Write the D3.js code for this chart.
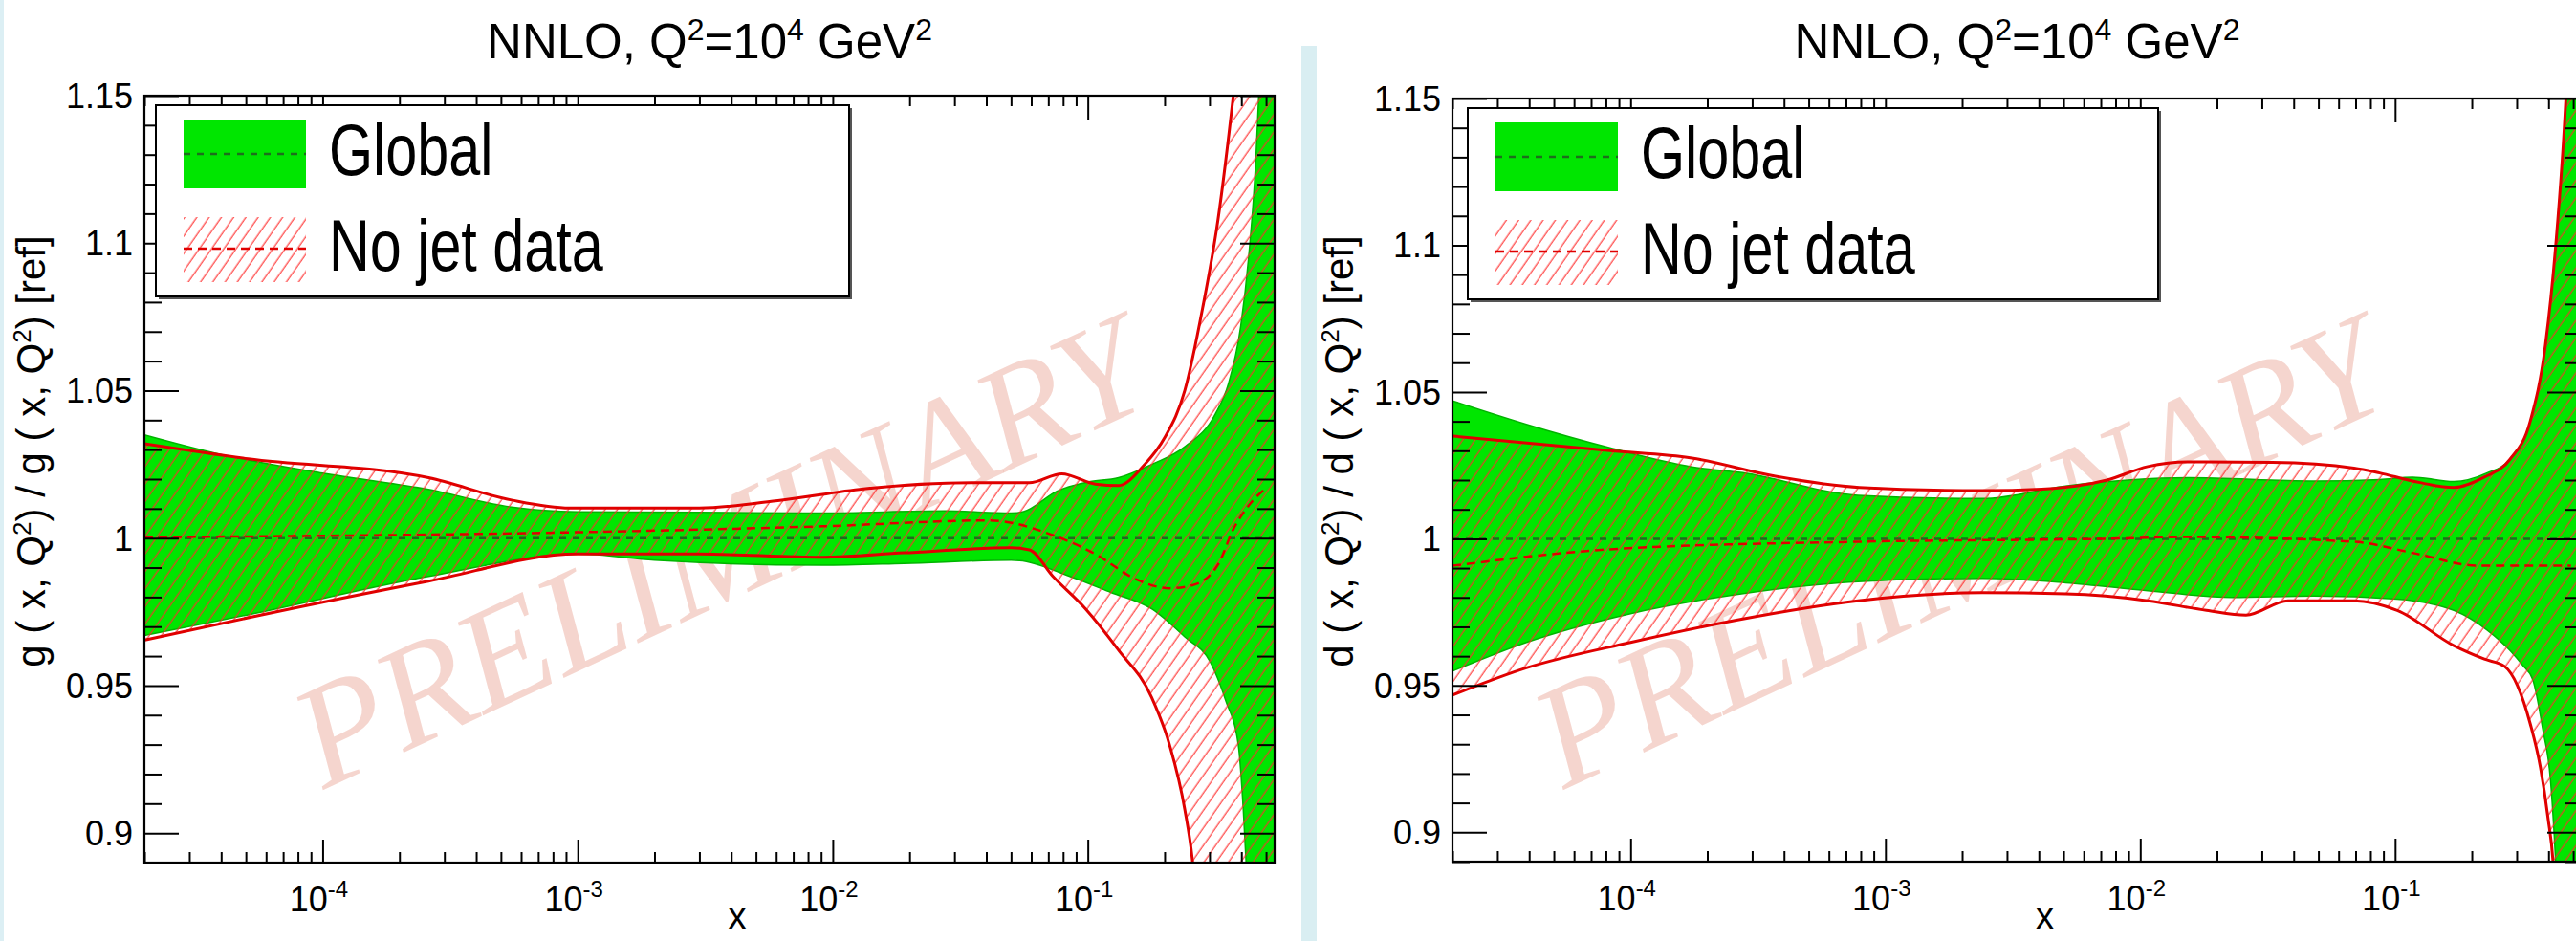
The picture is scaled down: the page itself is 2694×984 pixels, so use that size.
<!DOCTYPE html>
<html><head><meta charset="utf-8">
<script src="https://cdn.jsdelivr.net/npm/d3@7"></script>
<style>html,body{margin:0;padding:0;background:#fff;} svg{display:block;}</style>
</head><body>
<svg id="chart" width="2694" height="984"></svg>
<script>
// ---------- axis / tick data ----------
const xDomain = [2e-5, 0.54];
const yDomain = [0.89, 1.15];
const xTickValues = [1e-4, 1e-3, 1e-2, 1e-1];
const xTickExponents = ["-4", "-3", "-2", "-1"];
const yTickValues = [0.9, 0.95, 1, 1.05, 1.1, 1.15];
const yTickLabels = ["0.9", "0.95", "1", "1.05", "1.1", "1.15"];
const legendLabels = ["Global", "No jet data"];
const watermarkText = "PRELIMINARY";

// ---------- gluon panel (left) ----------
const gluonGlobalUpperX = [2e-5, 3.7e-5, 1e-4, 2.6e-4, 5.5e-4, 1e-3, 3e-3, 9.1e-3, 2.75e-2, 5e-2, 5.6e-2, 7.6e-2, 0.1, 0.132, 0.178, 0.24, 0.316, 0.355, 0.398, 0.427, 0.457, 0.468, 0.54];
const gluonGlobalUpperY = [1.035, 1.029, 1.022, 1.0165, 1.0105, 1.0089, 1.0087, 1.0085, 1.0092, 1.0085, 1.009, 1.016, 1.019, 1.0205, 1.025, 1.031, 1.042, 1.052, 1.072, 1.095, 1.13, 1.15, 1.35];
const gluonGlobalLowerX = [2e-5, 5.1e-5, 2.6e-4, 1e-3, 2e-3, 9.1e-3, 1.9e-2, 5e-2, 5.4e-2, 8.5e-2, 0.123, 0.178, 0.24, 0.302, 0.347, 0.389, 0.407, 0.417, 0.44, 0.54];
const gluonGlobalLowerY = [0.967, 0.974, 0.987, 0.9946, 0.9925, 0.9908, 0.9914, 0.9925, 0.9924, 0.987, 0.9816, 0.976, 0.9665, 0.958, 0.945, 0.930, 0.908, 0.891, 0.84, 0.70];
const gluonGlobalCentralX = [2e-5, 0.54];
const gluonGlobalCentralY = [1, 1];
const gluonNoJetUpperX = [2e-5, 5.1e-5, 2.6e-4, 5.5e-4, 9.3e-4, 3e-3, 6.3e-3, 1.32e-2, 3.5e-2, 5.9e-2, 7.9e-2, 0.107, 0.132, 0.166, 0.2, 0.24, 0.282, 0.324, 0.372, 0.427, 0.54];
const gluonNoJetUpperY = [1.032, 1.0269, 1.0205, 1.0129, 1.0102, 1.0102, 1.0129, 1.0167, 1.0188, 1.0188, 1.0218, 1.0183, 1.0178, 1.0247, 1.034, 1.05, 1.078, 1.108, 1.15, 1.2, 1.35];
const gluonNoJetLowerX = [2e-5, 5.1e-5, 2.6e-4, 1e-3, 3e-3, 9.1e-3, 1.9e-2, 5e-2, 5.9e-2, 7.3e-2, 9.8e-2, 0.132, 0.178, 0.209, 0.24, 0.257, 0.275, 0.54];
const gluonNoJetLowerY = [0.9654, 0.973, 0.9854, 0.9946, 0.9946, 0.9935, 0.995, 0.9967, 0.996, 0.987, 0.976, 0.962, 0.946, 0.930, 0.908, 0.891, 0.86, 0.60];
const gluonNoJetCentralX = [2e-5, 1e-3, 9.1e-3, 4.1e-2, 7.3e-2, 0.107, 0.155, 0.209, 0.257, 0.324, 0.372, 0.427, 0.5];
const gluonNoJetCentralY = [1.0003, 1.002, 1.004, 1.006, 1.001, 0.9946, 0.986, 0.983, 0.984, 0.991, 1.003, 1.011, 1.017];

// ---------- d-quark panel (right) ----------
const dGlobalUpperX = [2e-5, 3.9e-5, 8.3e-5, 1.74e-4, 2.75e-4, 7.8e-4, 2.4e-3, 5.1e-3, 1.55e-2, 4.8e-2, 8.7e-2, 0.117, 0.17, 0.229, 0.282, 0.339, 0.389, 0.427, 0.468, 0.54];
const dGlobalUpperY = [1.047, 1.039, 1.031, 1.0245, 1.0225, 1.0148, 1.0137, 1.018, 1.0208, 1.0197, 1.0202, 1.021, 1.0195, 1.0224, 1.027, 1.04, 1.066, 1.10, 1.15, 1.3];
const dGlobalLowerX = [2e-5, 3.9e-5, 1e-4, 2.6e-4, 7.8e-4, 2.4e-3, 5.1e-3, 1.07e-2, 2.3e-2, 4.8e-2, 0.102, 0.17, 0.229, 0.282, 0.316, 0.347, 0.38, 0.407, 0.427, 0.447, 0.54];
const dGlobalLowerY = [0.9549, 0.9647, 0.9745, 0.981, 0.9854, 0.9865, 0.985, 0.9823, 0.98, 0.9805, 0.9794, 0.9756, 0.969, 0.962, 0.957, 0.952, 0.935, 0.918, 0.8895, 0.85, 0.60];
const dGlobalCentralX = [2e-5, 0.54];
const dGlobalCentralY = [1, 1];
const dNoJetUpperX = [2e-5, 8.3e-5, 1.74e-4, 3.7e-4, 7.9e-4, 2.4e-3, 4.1e-3, 7.4e-3, 1.07e-2, 1.55e-2, 3.3e-2, 6.9e-2, 8.7e-2, 0.117, 0.17, 0.224, 0.282, 0.339, 0.389, 0.427, 0.468, 0.54];
const dNoJetUpperY = [1.035, 1.030, 1.0275, 1.0213, 1.0175, 1.0164, 1.0169, 1.020, 1.0246, 1.0262, 1.026, 1.0241, 1.0224, 1.0197, 1.0175, 1.021, 1.027, 1.04, 1.066, 1.10, 1.15, 1.3];
const dNoJetLowerX = [2e-5, 3.9e-5, 1e-4, 2.6e-4, 7.8e-4, 2.4e-3, 5.1e-3, 1.07e-2, 1.82e-2, 2.6e-2, 3.8e-2, 6.9e-2, 0.102, 0.17, 0.224, 0.269, 0.302, 0.339, 0.372, 0.398, 0.417, 0.437, 0.54];
const dNoJetLowerY = [0.9467, 0.956, 0.9647, 0.9723, 0.9789, 0.9816, 0.9812, 0.9789, 0.9756, 0.974, 0.9789, 0.9789, 0.9756, 0.9636, 0.959, 0.9565, 0.950, 0.937, 0.922, 0.905, 0.8895, 0.85, 0.60];
const dNoJetCentralX = [2e-5, 8.3e-5, 7.9e-4, 7.4e-3, 1.55e-2, 6.9e-2, 0.117, 0.214, 0.49];
const dNoJetCentralY = [0.9908, 0.9964, 0.999, 1.0, 1.0006, 0.999, 0.9952, 0.9908, 0.9908];

const zip = (xs, ys) => xs.map((x, i) => [x, ys[i]]);

const panels = [
  { id: "g", pdf: "g",
    frame: { x0: 151, x1: 1333, y0: 100, y1: 902 },
    legend: { x: 163, y: 110, w: 725, h: 200 },
    watermark: { cx: 751, cy: 575 },
    globalUpper: zip(gluonGlobalUpperX, gluonGlobalUpperY),
    globalLower: zip(gluonGlobalLowerX, gluonGlobalLowerY),
    globalCentral: zip(gluonGlobalCentralX, gluonGlobalCentralY),
    noJetUpper: zip(gluonNoJetUpperX, gluonNoJetUpperY),
    noJetLower: zip(gluonNoJetLowerX, gluonNoJetLowerY),
    noJetCentral: zip(gluonNoJetCentralX, gluonNoJetCentralY) },
  { id: "d", pdf: "d",
    frame: { x0: 1519, x1: 2700, y0: 103, y1: 901 },
    legend: { x: 1535, y: 113, w: 722, h: 200 },
    watermark: { cx: 2048, cy: 575 },
    globalUpper: zip(dGlobalUpperX, dGlobalUpperY),
    globalLower: zip(dGlobalLowerX, dGlobalLowerY),
    globalCentral: zip(dGlobalCentralX, dGlobalCentralY),
    noJetUpper: zip(dNoJetUpperX, dNoJetUpperY),
    noJetLower: zip(dNoJetLowerX, dNoJetLowerY),
    noJetCentral: zip(dNoJetCentralX, dNoJetCentralY) }
];

const FONT = "'Liberation Sans', Arial, Helvetica, sans-serif";
const GREEN = "#00e600";
const GREEN_EDGE = "#00b400";
const RED = "#e00000";
const svg = d3.select("#chart");

// page decorations (light blue separators)
svg.append("rect").attr("x", 0).attr("y", 0).attr("width", 4).attr("height", 984).attr("fill", "#dceff4");
svg.append("rect").attr("x", 1361).attr("y", 48).attr("width", 16).attr("height", 936).attr("fill", "#d9eef2");

const defs = svg.append("defs");
const pat = defs.append("pattern").attr("id", "hatch")
  .attr("patternUnits", "userSpaceOnUse").attr("width", 10.5).attr("height", 40)
  .attr("patternTransform", "rotate(35)");
pat.append("line").attr("x1", 5).attr("x2", 5).attr("y1", 0).attr("y2", 40)
  .attr("stroke", "#ff2a2a").attr("stroke-width", 1.3).attr("stroke-opacity", 0.85);

panels.forEach(p => {
  const f = p.frame;
  const x = d3.scaleLog().domain(xDomain).range([f.x0, f.x1]);
  const y = d3.scaleLinear().domain(yDomain).range([f.y1, f.y0]);
  const g = svg.append("g");

  defs.append("clipPath").attr("id", "clip-" + p.id)
    .append("rect").attr("x", f.x0).attr("y", f.y0).attr("width", f.x1 - f.x0).attr("height", f.y1 - f.y0);

  const plot = g.append("g").attr("clip-path", `url(#clip-${p.id})`);

  // watermark (under bands)
  plot.append("text")
    .attr("transform", `translate(${p.watermark.cx},${p.watermark.cy}) rotate(-25)`)
    .attr("text-anchor", "middle").attr("dy", "0.35em")
    .attr("font-family", "'Liberation Serif', 'Times New Roman', serif")
    .attr("font-style", "italic").attr("font-size", 152)
    .attr("fill", "#e89a8a").attr("fill-opacity", 0.42)
    .text(watermarkText);

  const line = d3.line().x(d => x(d[0])).y(d => y(d[1])).curve(d3.curveMonotoneX);
  const bandPath = (up, lo) => {
    const a = line(up);
    const b = line(lo.slice().reverse());
    return a + "L" + b.slice(1) + "Z";
  };

  // Global band
  plot.append("path").attr("d", bandPath(p.globalUpper, p.globalLower)).attr("fill", GREEN);
  plot.append("path").attr("d", line(p.globalUpper)).attr("fill", "none").attr("stroke", GREEN_EDGE).attr("stroke-width", 1.5);
  plot.append("path").attr("d", line(p.globalLower)).attr("fill", "none").attr("stroke", GREEN_EDGE).attr("stroke-width", 1.5);

  // No jet band (hatched)
  plot.append("path").attr("d", bandPath(p.noJetUpper, p.noJetLower)).attr("fill", "url(#hatch)");
  plot.append("path").attr("d", line(p.noJetUpper)).attr("fill", "none").attr("stroke", RED).attr("stroke-width", 3);
  plot.append("path").attr("d", line(p.noJetLower)).attr("fill", "none").attr("stroke", RED).attr("stroke-width", 3);

  // central lines
  plot.append("path").attr("d", line(p.globalCentral)).attr("fill", "none")
    .attr("stroke", "#1d6e1d").attr("stroke-width", 2.5).attr("stroke-dasharray", "7,7");
  plot.append("path").attr("d", line(p.noJetCentral)).attr("fill", "none")
    .attr("stroke", RED).attr("stroke-width", 2.5).attr("stroke-dasharray", "9,6");

  // ticks via d3 axes
  const allX = x.ticks();
  const minorX = allX.filter(v => !xTickValues.some(t => Math.abs(t - v) / t < 1e-6));
  const allY = y.ticks(26);
  const minorY = allY.filter(v => !yTickValues.some(t => Math.abs(t - v) < 1e-6));
  const axisStyle = sel => { sel.select(".domain").remove(); sel.selectAll("text").remove();
    sel.selectAll("line").attr("stroke", "#000").attr("stroke-width", 2); };

  g.append("g").attr("transform", `translate(0,${f.y1})`).call(d3.axisBottom(x).tickValues(xTickValues).tickSize(-24)).call(axisStyle);
  g.append("g").attr("transform", `translate(0,${f.y1})`).call(d3.axisBottom(x).tickValues(minorX).tickSize(-11)).call(axisStyle);
  g.append("g").attr("transform", `translate(0,${f.y0})`).call(d3.axisTop(x).tickValues(xTickValues).tickSize(-25)).call(axisStyle);
  g.append("g").attr("transform", `translate(0,${f.y0})`).call(d3.axisTop(x).tickValues(minorX).tickSize(-11)).call(axisStyle);
  g.append("g").attr("transform", `translate(${f.x0},0)`).call(d3.axisLeft(y).tickValues(yTickValues).tickSize(-36)).call(axisStyle);
  g.append("g").attr("transform", `translate(${f.x0},0)`).call(d3.axisLeft(y).tickValues(minorY).tickSize(-18)).call(axisStyle);
  g.append("g").attr("transform", `translate(${f.x1},0)`).call(d3.axisRight(y).tickValues(yTickValues).tickSize(-36)).call(axisStyle);
  g.append("g").attr("transform", `translate(${f.x1},0)`).call(d3.axisRight(y).tickValues(minorY).tickSize(-18)).call(axisStyle);

  // frame
  g.append("rect").attr("x", f.x0).attr("y", f.y0).attr("width", f.x1 - f.x0).attr("height", f.y1 - f.y0)
    .attr("fill", "none").attr("stroke", "#000").attr("stroke-width", 2.2);

  // y tick labels
  yTickValues.forEach((v, i) => {
    g.append("text").attr("x", f.x0 - 12).attr("y", y(v)).attr("dy", "0.36em")
      .attr("text-anchor", "end").attr("font-family", FONT).attr("font-size", 36).attr("fill", "#000")
      .text(yTickLabels[i]);
  });
  // x tick labels
  xTickValues.forEach((v, i) => {
    const t = g.append("text").attr("x", x(v) - 4).attr("y", f.y1 + 51)
      .attr("text-anchor", "middle").attr("font-family", FONT).attr("font-size", 36).attr("fill", "#000");
    t.append("tspan").text("10");
    t.append("tspan").attr("dy", -15).attr("font-size", 24).text(xTickExponents[i]);
  });

  const cx = (f.x0 + f.x1) / 2;
  // title
  const tt = g.append("text").attr("x", cx).attr("y", 61).attr("text-anchor", "middle")
    .attr("font-family", FONT).attr("font-size", 51).attr("fill", "#000");
  tt.append("tspan").text("NNLO, Q");
  tt.append("tspan").attr("dy", -19).attr("font-size", 32).text("2");
  tt.append("tspan").attr("dy", 19).text("=10");
  tt.append("tspan").attr("dy", -19).attr("font-size", 32).text("4");
  tt.append("tspan").attr("dy", 19).text(" GeV");
  tt.append("tspan").attr("dy", -19).attr("font-size", 32).text("2");

  // x title
  g.append("text").attr("x", cx + 29).attr("y", 971).attr("text-anchor", "middle")
    .attr("font-family", FONT).attr("font-size", 38).attr("fill", "#000").text("x");

  // y title
  const yt = g.append("text").attr("transform", `translate(${f.x0 - 104},472) rotate(-90)`)
    .attr("text-anchor", "middle").attr("font-family", FONT).attr("font-size", 42).attr("fill", "#000");
  yt.append("tspan").text(`${p.pdf} ( x, Q`);
  yt.append("tspan").attr("dy", -15).attr("font-size", 26).text("2");
  yt.append("tspan").attr("dy", 15).text(`) / ${p.pdf} ( x, Q`);
  yt.append("tspan").attr("dy", -15).attr("font-size", 26).text("2");
  yt.append("tspan").attr("dy", 15).text(") [ref]");

  // legend
  const L = p.legend;
  g.append("rect").attr("x", L.x + 3).attr("y", L.y + 3).attr("width", L.w).attr("height", L.h).attr("fill", "#555");
  g.append("rect").attr("x", L.x).attr("y", L.y).attr("width", L.w).attr("height", L.h)
    .attr("fill", "#fff").attr("stroke", "#000").attr("stroke-width", 2);
  g.append("rect").attr("x", L.x + 29).attr("y", L.y + 15).attr("width", 128).attr("height", 72).attr("fill", GREEN);
  g.append("line").attr("x1", L.x + 29).attr("x2", L.x + 157).attr("y1", L.y + 51).attr("y2", L.y + 51)
    .attr("stroke", "#1d6e1d").attr("stroke-width", 2.5).attr("stroke-dasharray", "7,7");
  g.append("rect").attr("x", L.x + 29).attr("y", L.y + 117).attr("width", 128).attr("height", 68).attr("fill", "url(#hatch)");
  g.append("line").attr("x1", L.x + 29).attr("x2", L.x + 157).attr("y1", L.y + 150).attr("y2", L.y + 150)
    .attr("stroke", RED).attr("stroke-width", 2.5).attr("stroke-dasharray", "9,6");
  [[legendLabels[0], 73], [legendLabels[1], 173]].forEach(([lab, dy]) => {
    g.append("text").attr("transform", `translate(${L.x + 181},${L.y + dy}) scale(0.78,1)`)
      .attr("font-family", FONT).attr("font-size", 76).attr("fill", "#000").text(lab);
  });
});
</script>
</body></html>
